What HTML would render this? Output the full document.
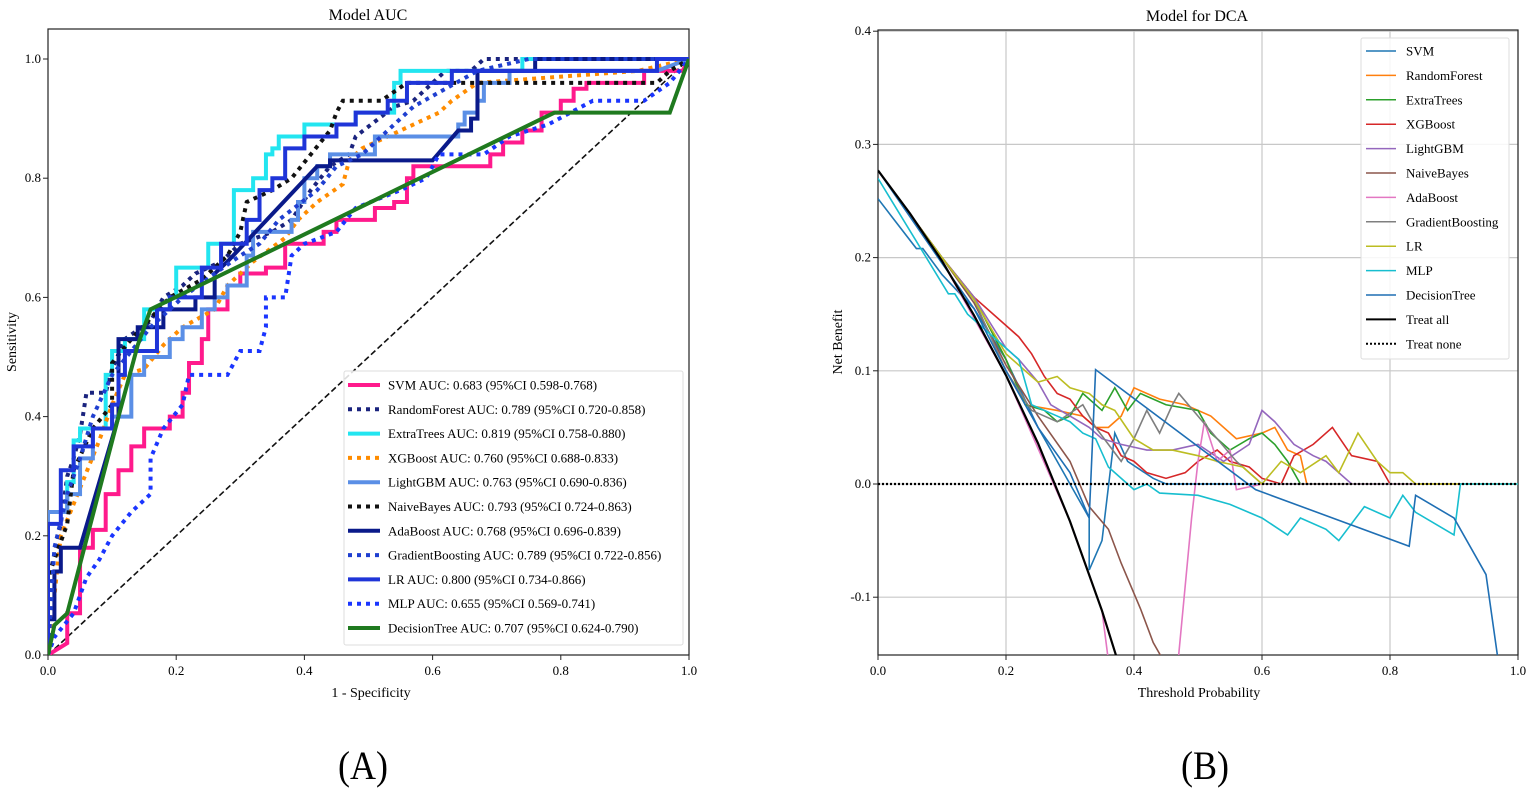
<!DOCTYPE html>
<html><head><meta charset="utf-8">
<style>
html,body{margin:0;padding:0;background:#fff;}
svg{display:block;font-family:"Liberation Serif",serif;}
</style></head>
<body>
<svg id="chart" width="1535" height="788" viewBox="0 0 1535 788" xmlns="http://www.w3.org/2000/svg">
<defs>
<clipPath id="clipA"><rect x="48" y="29" width="641" height="626"/></clipPath>
<clipPath id="clipB"><rect x="878" y="30" width="640" height="625"/></clipPath>
</defs>
<g id="gA"></g>
<g id="gB"></g>
<text x="363" y="779" font-size="40" text-anchor="middle" transform="translate(363 0) scale(0.9 1) translate(-363 0)">(A)</text>
<text x="1205" y="779" font-size="40" text-anchor="middle" transform="translate(1205 0) scale(0.9 1) translate(-1205 0)">(B)</text>
</svg>
<script>
// ---------- Panel A data (ROC) ----------
const rocNames = ["SVM","RandomForest","ExtraTrees","XGBoost","LightGBM","NaiveBayes","AdaBoost","GradientBoosting","LR","MLP","DecisionTree"];
const rocAuc = ["0.683 (95%CI 0.598-0.768)","0.789 (95%CI 0.720-0.858)","0.819 (95%CI 0.758-0.880)","0.760 (95%CI 0.688-0.833)","0.763 (95%CI 0.690-0.836)","0.793 (95%CI 0.724-0.863)","0.768 (95%CI 0.696-0.839)","0.789 (95%CI 0.722-0.856)","0.800 (95%CI 0.734-0.866)","0.655 (95%CI 0.569-0.741)","0.707 (95%CI 0.624-0.790)"];
const rocSVM = [[0,0],[0.03,0.02],[0.03,0.07],[0.05,0.07],[0.05,0.18],[0.07,0.18],[0.07,0.21],[0.09,0.21],[0.09,0.27],[0.11,0.27],[0.11,0.31],[0.13,0.31],[0.13,0.35],[0.15,0.35],[0.15,0.38],[0.19,0.38],[0.19,0.4],[0.21,0.4],[0.21,0.44],[0.22,0.44],[0.22,0.49],[0.24,0.49],[0.24,0.53],[0.25,0.53],[0.25,0.58],[0.28,0.58],[0.28,0.62],[0.3,0.62],[0.3,0.64],[0.34,0.64],[0.34,0.65],[0.37,0.65],[0.37,0.69],[0.43,0.69],[0.43,0.71],[0.45,0.71],[0.45,0.73],[0.51,0.73],[0.51,0.75],[0.54,0.75],[0.54,0.76],[0.56,0.76],[0.56,0.8],[0.57,0.8],[0.57,0.82],[0.69,0.82],[0.69,0.84],[0.71,0.84],[0.71,0.86],[0.74,0.86],[0.74,0.88],[0.77,0.88],[0.77,0.91],[0.8,0.91],[0.8,0.93],[0.82,0.93],[0.82,0.95],[0.84,0.95],[0.84,0.96],[0.93,0.96],[0.93,0.98],[0.99,0.98],[1,1]];
const rocRF = [[0,0],[0,0.12],[0.02,0.22],[0.03,0.3],[0.04,0.33],[0.05,0.37],[0.06,0.44],[0.09,0.44],[0.1,0.48],[0.12,0.53],[0.16,0.56],[0.18,0.6],[0.21,0.62],[0.23,0.64],[0.27,0.66],[0.3,0.69],[0.35,0.71],[0.38,0.73],[0.41,0.78],[0.44,0.82],[0.47,0.84],[0.48,0.87],[0.54,0.92],[0.57,0.93],[0.6,0.96],[0.62,0.98],[0.66,0.98],[0.68,1],[1,1]];
const rocET = [[0,0],[0,0.24],[0.03,0.24],[0.03,0.29],[0.04,0.29],[0.04,0.36],[0.05,0.36],[0.05,0.38],[0.09,0.38],[0.09,0.47],[0.1,0.47],[0.1,0.51],[0.12,0.51],[0.12,0.53],[0.15,0.53],[0.15,0.58],[0.19,0.58],[0.19,0.6],[0.2,0.6],[0.2,0.65],[0.25,0.65],[0.25,0.69],[0.29,0.69],[0.29,0.78],[0.32,0.78],[0.32,0.8],[0.34,0.8],[0.34,0.84],[0.35,0.84],[0.35,0.85],[0.36,0.85],[0.36,0.87],[0.4,0.87],[0.4,0.89],[0.48,0.89],[0.48,0.91],[0.54,0.91],[0.54,0.96],[0.55,0.96],[0.55,0.98],[0.74,0.98],[0.74,1],[1,1]];
const rocXGB = [[0,0],[0.02,0.2],[0.05,0.28],[0.08,0.36],[0.1,0.42],[0.12,0.47],[0.15,0.48],[0.18,0.52],[0.21,0.55],[0.26,0.58],[0.28,0.62],[0.32,0.66],[0.37,0.7],[0.39,0.73],[0.42,0.76],[0.46,0.79],[0.47,0.83],[0.49,0.85],[0.53,0.87],[0.57,0.89],[0.61,0.91],[0.63,0.93],[0.67,0.96],[0.92,0.98],[1,1]];
const rocLGBM = [[0,0],[0,0.24],[0.03,0.24],[0.03,0.27],[0.05,0.27],[0.05,0.33],[0.07,0.33],[0.07,0.38],[0.1,0.38],[0.1,0.4],[0.13,0.4],[0.13,0.47],[0.15,0.47],[0.15,0.5],[0.19,0.5],[0.19,0.53],[0.21,0.53],[0.21,0.55],[0.24,0.55],[0.24,0.58],[0.26,0.58],[0.26,0.6],[0.28,0.6],[0.28,0.62],[0.31,0.62],[0.31,0.67],[0.32,0.67],[0.32,0.71],[0.38,0.71],[0.38,0.73],[0.39,0.73],[0.39,0.76],[0.4,0.76],[0.4,0.8],[0.42,0.8],[0.42,0.82],[0.44,0.82],[0.44,0.84],[0.51,0.84],[0.51,0.87],[0.64,0.87],[0.64,0.89],[0.65,0.89],[0.65,0.91],[0.67,0.91],[0.67,0.93],[0.68,0.93],[0.68,0.96],[0.72,0.96],[0.72,0.98],[0.95,0.98],[1,1]];
const rocNB = [[0,0],[0,0.13],[0.03,0.22],[0.04,0.31],[0.07,0.38],[0.1,0.42],[0.1,0.49],[0.13,0.53],[0.19,0.6],[0.24,0.63],[0.28,0.67],[0.3,0.71],[0.31,0.76],[0.35,0.78],[0.38,0.8],[0.41,0.84],[0.44,0.88],[0.45,0.91],[0.46,0.93],[0.52,0.93],[0.56,0.96],[0.95,0.96],[0.97,0.98],[1,1]];
const rocADA = [[0,0],[0,0.06],[0.01,0.06],[0.01,0.14],[0.02,0.14],[0.02,0.18],[0.05,0.18],[0.11,0.4],[0.11,0.53],[0.14,0.53],[0.14,0.55],[0.18,0.55],[0.18,0.58],[0.23,0.58],[0.23,0.6],[0.26,0.6],[0.26,0.64],[0.28,0.66],[0.42,0.82],[0.44,0.82],[0.44,0.83],[0.6,0.83],[0.64,0.88],[0.66,0.88],[0.66,0.9],[0.67,0.9],[0.67,0.98],[0.76,0.98],[0.76,1],[1,1]];
const rocGB = [[0,0],[0.01,0.18],[0.03,0.27],[0.05,0.33],[0.07,0.4],[0.1,0.47],[0.13,0.51],[0.16,0.55],[0.21,0.6],[0.26,0.64],[0.3,0.67],[0.33,0.69],[0.36,0.73],[0.42,0.78],[0.45,0.82],[0.49,0.84],[0.54,0.89],[0.57,0.92],[0.62,0.95],[0.67,0.98],[0.75,1],[1,1]];
const rocLR = [[0,0],[0,0.22],[0.02,0.22],[0.02,0.31],[0.04,0.31],[0.04,0.35],[0.07,0.35],[0.07,0.38],[0.1,0.38],[0.1,0.42],[0.11,0.42],[0.11,0.47],[0.12,0.47],[0.12,0.51],[0.17,0.51],[0.17,0.58],[0.19,0.58],[0.19,0.6],[0.24,0.6],[0.24,0.65],[0.27,0.65],[0.27,0.69],[0.31,0.69],[0.31,0.73],[0.33,0.73],[0.33,0.78],[0.35,0.78],[0.35,0.8],[0.37,0.8],[0.37,0.85],[0.4,0.85],[0.4,0.87],[0.45,0.87],[0.45,0.89],[0.48,0.89],[0.48,0.91],[0.53,0.91],[0.53,0.93],[0.56,0.93],[0.56,0.96],[0.63,0.96],[0.63,0.98],[0.95,0.98],[0.95,1],[1,1]];
const rocMLP = [[0,0],[0.01,0.03],[0.04,0.07],[0.06,0.13],[0.08,0.16],[0.1,0.2],[0.13,0.24],[0.16,0.27],[0.16,0.33],[0.18,0.38],[0.21,0.42],[0.22,0.47],[0.28,0.47],[0.3,0.51],[0.33,0.51],[0.34,0.55],[0.34,0.6],[0.37,0.6],[0.38,0.67],[0.4,0.69],[0.45,0.71],[0.48,0.75],[0.55,0.78],[0.59,0.8],[0.61,0.84],[0.68,0.84],[0.72,0.87],[0.78,0.89],[0.85,0.93],[0.93,0.93],[0.97,0.96],[1,1]];
const rocDT = [[0,0],[0.01,0.05],[0.03,0.07],[0.11,0.4],[0.14,0.52],[0.16,0.58],[0.79,0.91],[0.97,0.91],[1,1]];
const xTicksA = [0,0.2,0.4,0.6,0.8,1.0];
const yTicksA = [0,0.2,0.4,0.6,0.8,1.0];

// ---------- Panel B data (DCA) ----------
const dcaNames = ["SVM","RandomForest","ExtraTrees","XGBoost","LightGBM","NaiveBayes","AdaBoost","GradientBoosting","LR","MLP","DecisionTree","Treat all","Treat none"];
const dcaSVM = [[0,0.252],[0.06,0.208],[0.07,0.208],[0.1,0.185],[0.15,0.155],[0.2,0.11],[0.25,0.05],[0.3,0.0],[0.33,-0.03],[0.33,-0.076],[0.35,-0.05],[0.37,0.045],[0.39,0.02],[0.43,0.005],[0.45,0],[1,0]];
const dcaRF = [[0,0.277],[0.1,0.2],[0.15,0.165],[0.2,0.11],[0.23,0.07],[0.28,0.065],[0.32,0.06],[0.34,0.05],[0.36,0.05],[0.38,0.06],[0.4,0.085],[0.44,0.075],[0.48,0.07],[0.52,0.06],[0.56,0.04],[0.6,0.045],[0.62,0.05],[0.64,0.03],[0.66,0.025],[0.67,0.0],[1,0]];
const dcaET = [[0,0.277],[0.1,0.2],[0.15,0.165],[0.2,0.11],[0.23,0.07],[0.26,0.065],[0.28,0.055],[0.3,0.06],[0.32,0.08],[0.35,0.065],[0.37,0.085],[0.39,0.065],[0.41,0.08],[0.45,0.07],[0.5,0.065],[0.52,0.045],[0.55,0.03],[0.58,0.04],[0.6,0.045],[0.62,0.035],[0.64,0.02],[0.66,0.0],[1,0]];
const dcaXGB = [[0,0.277],[0.1,0.2],[0.15,0.165],[0.2,0.14],[0.22,0.13],[0.24,0.115],[0.26,0.095],[0.28,0.08],[0.3,0.075],[0.32,0.06],[0.34,0.05],[0.36,0.045],[0.38,0.025],[0.4,0.02],[0.42,0.01],[0.45,0.005],[0.48,0.01],[0.5,0.02],[0.53,0.03],[0.55,0.02],[0.58,0.015],[0.6,0.005],[0.63,0.0],[0.65,0.025],[0.68,0.035],[0.71,0.05],[0.74,0.025],[0.78,0.02],[0.8,0.0],[1,0]];
const dcaLGBM = [[0,0.277],[0.1,0.2],[0.15,0.165],[0.2,0.12],[0.22,0.11],[0.25,0.09],[0.27,0.07],[0.3,0.06],[0.33,0.05],[0.35,0.04],[0.38,0.035],[0.42,0.03],[0.46,0.03],[0.5,0.035],[0.54,0.02],[0.58,0.035],[0.6,0.065],[0.62,0.055],[0.65,0.035],[0.68,0.025],[0.7,0.02],[0.74,0.0],[1,0]];
const dcaNB = [[0,0.277],[0.1,0.2],[0.15,0.16],[0.2,0.105],[0.25,0.06],[0.3,0.02],[0.33,-0.02],[0.36,-0.04],[0.38,-0.07],[0.41,-0.11],[0.43,-0.14],[0.45,-0.16]];
const dcaADA = [[0,0.277],[0.1,0.197],[0.2,0.096],[0.3,-0.033],[0.35,-0.112],[0.37,-0.2],[0.4,-0.3],[0.46,-0.3],[0.47,-0.15],[0.49,-0.03],[0.5,0.02],[0.51,0.055],[0.53,0.02],[0.55,0.03],[0.56,-0.005],[0.6,0],[1,0]];
const dcaGB = [[0,0.277],[0.1,0.2],[0.15,0.163],[0.2,0.1],[0.24,0.065],[0.28,0.055],[0.32,0.07],[0.34,0.05],[0.36,0.035],[0.38,0.02],[0.4,0.04],[0.42,0.065],[0.44,0.045],[0.46,0.07],[0.47,0.08],[0.5,0.06],[0.53,0.04],[0.56,0.02],[0.6,0.0],[1,0]];
const dcaLR = [[0,0.277],[0.1,0.2],[0.15,0.163],[0.2,0.115],[0.25,0.09],[0.28,0.095],[0.3,0.085],[0.33,0.08],[0.35,0.07],[0.37,0.065],[0.4,0.04],[0.43,0.03],[0.46,0.03],[0.5,0.025],[0.53,0.02],[0.57,0.015],[0.6,0.0],[0.63,0.02],[0.66,0.01],[0.7,0.025],[0.72,0.01],[0.75,0.045],[0.78,0.02],[0.8,0.01],[0.82,0.01],[0.84,0.0],[1,0]];
const dcaMLP = [[0,0.27],[0.11,0.168],[0.12,0.168],[0.14,0.15],[0.2,0.12],[0.22,0.11],[0.24,0.07],[0.26,0.065],[0.28,0.06],[0.3,0.055],[0.32,0.045],[0.34,0.04],[0.36,0.015],[0.4,-0.005],[0.42,0.0],[0.44,-0.008],[0.5,-0.01],[0.55,-0.018],[0.6,-0.03],[0.64,-0.045],[0.66,-0.03],[0.7,-0.04],[0.72,-0.05],[0.76,-0.02],[0.8,-0.03],[0.82,-0.01],[0.84,-0.025],[0.9,-0.045],[0.91,0.0],[1,0]];
const dcaDT = [[0,0.277],[0.1,0.195],[0.15,0.155],[0.2,0.1],[0.25,0.05],[0.3,0.01],[0.33,-0.03],[0.34,0.101],[0.59,-0.005],[0.83,-0.055],[0.84,-0.01],[0.9,-0.03],[0.95,-0.08],[0.97,-0.16]];
const dcaAll = [[0,0.277],[0.05,0.239],[0.1,0.197],[0.15,0.149],[0.2,0.096],[0.25,0.036],[0.3,-0.033],[0.35,-0.112],[0.375,-0.157]];
const dcaNone = [[0,0],[1,0]];
const xTicksB = [0,0.2,0.4,0.6,0.8,1.0];
const yTicksB = [-0.1,0,0.1,0.2,0.3,0.4];

const NS = "http://www.w3.org/2000/svg";
function mk(parent, tag, attrs){ const e=document.createElementNS(NS,tag); for(const k in attrs) e.setAttribute(k,attrs[k]); parent.appendChild(e); return e; }
function txt(parent, s, attrs){ const e=mk(parent,'text',attrs); e.textContent=s; return e; }

const xA = v => 48 + v*641;
const yA = v => 655 - v*596;
const xB = v => 878 + v*640;
const yB = v => 484 - v*1132;

// ===== Panel A =====
const gA = document.getElementById('gA');
txt(gA,"Model AUC",{x:368,y:20,'font-size':16,'text-anchor':'middle',});
mk(gA,'rect',{x:48,y:29,width:641,height:626,fill:'#fff',stroke:'#222','stroke-width':1.2});
xTicksA.forEach(t=>{
  mk(gA,'line',{x1:xA(t),x2:xA(t),y1:655,y2:660,stroke:'#222'});
  const e=txt(gA,t.toFixed(1),{x:xA(t),y:675,'font-size':13,'text-anchor':'middle'});
  
  
});
yTicksA.forEach(t=>{
  mk(gA,'line',{x1:43,x2:48,y1:yA(t),y2:yA(t),stroke:'#222'});
  const e=txt(gA,t.toFixed(1),{x:41,y:yA(t)+4,'font-size':13,'text-anchor':'end'});
  
  
});
txt(gA,"1 - Specificity",{x:371,y:697,'font-size':14,'text-anchor':'middle',});
txt(gA,"Sensitivity",{x:16,y:342,'font-size':14,'text-anchor':'middle',transform:'rotate(-90 16 342)',});
const cA = mk(gA,'g',{'clip-path':'url(#clipA)'});
mk(cA,'line',{x1:xA(0),y1:yA(0),x2:xA(1),y2:yA(1),stroke:'#111','stroke-width':1.6,'stroke-dasharray':'6 3'});
const rocSeries = [rocSVM,rocRF,rocET,rocXGB,rocLGBM,rocNB,rocADA,rocGB,rocLR,rocMLP,rocDT];
const rocColors = ["#ff1a8c","#1a237e","#22e5f0","#ff8c00","#5b8fe6","#111111","#0a1a8a","#1f3fd0","#1f35d8","#1a35ff","#1f7a1f"];
const rocDotted = [false,true,false,true,false,true,false,true,false,true,false];
rocSeries.forEach((s,i)=>{
  const p = mk(cA,'polyline',{points:s.map(d=>xA(d[0])+','+yA(d[1])).join(' '),fill:'none',stroke:rocColors[i],'stroke-width':4,'stroke-dasharray':rocDotted[i]?'4 5':'none','stroke-linejoin':'miter'});
  
  
});
const lgA = mk(gA,'g',{});


mk(lgA,'rect',{x:344,y:371,width:339,height:274,fill:'#fff','fill-opacity':0.85,stroke:'#ddd',rx:2});
rocNames.forEach((n,i)=>{
  const y = 385 + i*24.3;
  const ent = mk(lgA,'g',{});
  
  
  mk(ent,'line',{x1:348,x2:380,y1:y,y2:y,stroke:rocColors[i],'stroke-width':4,'stroke-dasharray':rocDotted[i]?'4 5':'none'});
  txt(ent,n+" AUC: "+rocAuc[i],{x:388,y:y+4.5,'font-size':13});
});

// ===== Panel B =====
const gB = document.getElementById('gB');
txt(gB,"Model for DCA",{x:1197,y:21,'font-size':16,'text-anchor':'middle',});
mk(gB,'rect',{x:878,y:30,width:640,height:625,fill:'#fff'});
xTicksB.forEach(t=>{
  mk(gB,'line',{x1:xB(t),x2:xB(t),y1:30,y2:655,stroke:'#c8c8c8','stroke-width':1.2});
  mk(gB,'line',{x1:xB(t),x2:xB(t),y1:655,y2:660,stroke:'#222'});
  const e=txt(gB,t.toFixed(1),{x:xB(t),y:675,'font-size':13,'text-anchor':'middle'});
  
  
});
yTicksB.forEach(t=>{
  mk(gB,'line',{x1:878,x2:1518,y1:yB(t),y2:yB(t),stroke:'#c8c8c8','stroke-width':1.2});
  mk(gB,'line',{x1:873,x2:878,y1:yB(t),y2:yB(t),stroke:'#222'});
  const e=txt(gB,t.toFixed(1),{x:871,y:yB(t)+4,'font-size':13,'text-anchor':'end'});
  
  
});
mk(gB,'rect',{x:878,y:30,width:640,height:625,fill:'none',stroke:'#222','stroke-width':1.2});
txt(gB,"Threshold Probability",{x:1199,y:697,'font-size':14,'text-anchor':'middle',});
txt(gB,"Net Benefit",{x:842,y:342,'font-size':14,'text-anchor':'middle',transform:'rotate(-90 842 342)',});
const cB = mk(gB,'g',{'clip-path':'url(#clipB)'});
const dcaSeries = [dcaSVM,dcaRF,dcaET,dcaXGB,dcaLGBM,dcaNB,dcaADA,dcaGB,dcaLR,dcaMLP,dcaDT,dcaAll,dcaNone];
const dcaColors = ["#1f77b4","#ff7f0e","#2ca02c","#d62728","#9467bd","#8c564b","#e377c2","#7f7f7f","#bcbd22","#17becf","#1f6fb4","#000000","#000000"];
dcaSeries.forEach((s,i)=>{
  const none = i===12, all = i===11;
  const p = mk(cB,'polyline',{points:s.map(d=>xB(d[0])+','+yB(d[1])).join(' '),fill:'none',stroke:dcaColors[i],'stroke-width':(none||all)?2.2:1.6,'stroke-dasharray':none?'2 2':'none'});
  
  
});
const lgB = mk(gB,'g',{});


mk(lgB,'rect',{x:1361,y:38,width:148,height:321,fill:'#fff','fill-opacity':0.85,stroke:'#ddd',rx:2});
dcaNames.forEach((n,i)=>{
  const y = 51 + i*24.4;
  const ent = mk(lgB,'g',{});
  
  
  mk(ent,'line',{x1:1366,x2:1396,y1:y,y2:y,stroke:dcaColors[i],'stroke-width':(i>=11)?2:1.5,'stroke-dasharray':i===12?'2 2':'none'});
  txt(ent,n,{x:1406,y:y+4.5,'font-size':13});
});
</script>
</body></html>
